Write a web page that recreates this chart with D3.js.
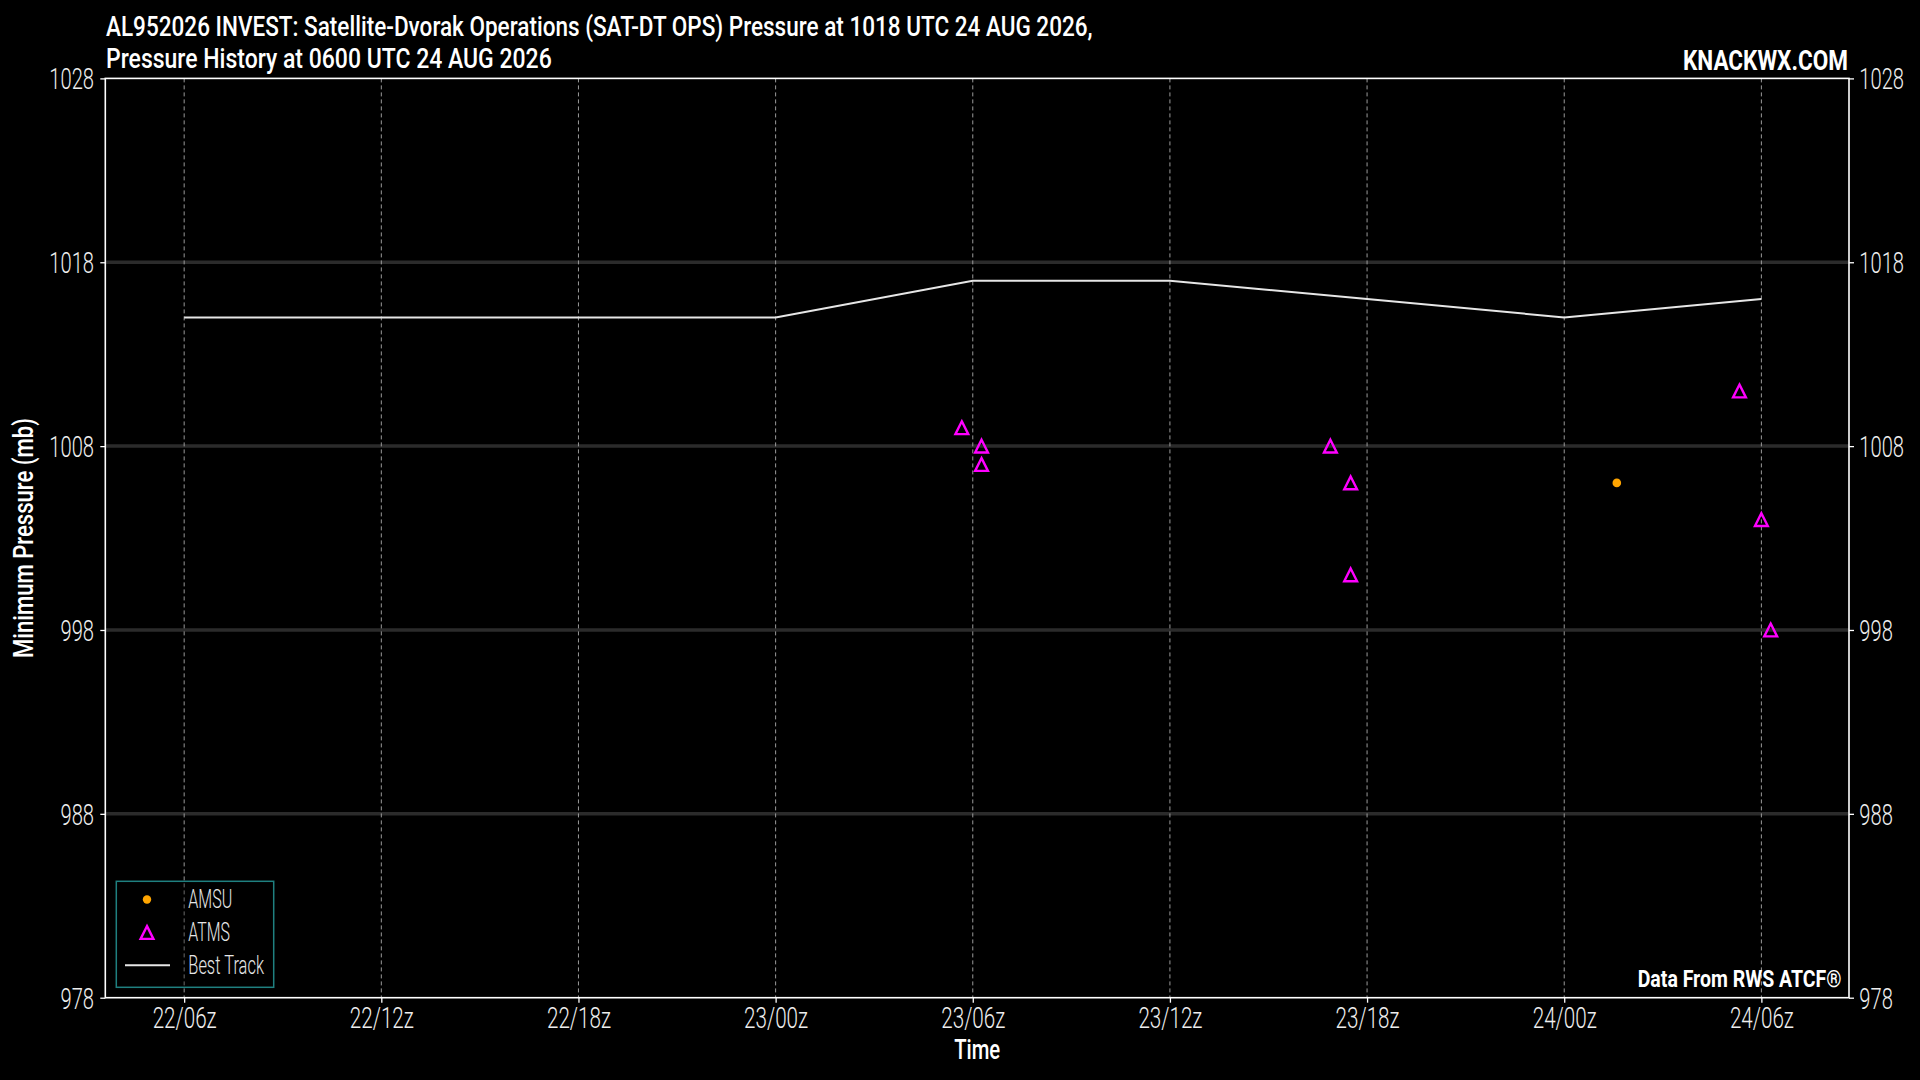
<!DOCTYPE html>
<html>
<head>
<meta charset="utf-8">
<script src="https://cdn.jsdelivr.net/npm/d3@7"></script>
<style>
  html, body { margin: 0; padding: 0; background: #000; }
  svg { display: block; }
</style>
</head>
<body>
<script>
// ---------------- data ----------------
const bestTrackTimes = ["2026-08-22T06:00Z","2026-08-22T12:00Z","2026-08-22T18:00Z","2026-08-23T00:00Z","2026-08-23T06:00Z","2026-08-23T12:00Z","2026-08-23T18:00Z","2026-08-24T00:00Z","2026-08-24T06:00Z"];
const bestTrackPressure = [1015, 1015, 1015, 1015, 1017, 1017, 1016, 1015, 1016];

const atmsTimes = ["2026-08-23T05:40Z","2026-08-23T06:16Z","2026-08-23T06:16Z","2026-08-23T16:53Z","2026-08-23T17:30Z","2026-08-23T17:30Z","2026-08-24T05:20Z","2026-08-24T06:00Z","2026-08-24T06:17Z"];
const atmsPressure = [1009, 1008, 1007, 1008, 1006, 1001, 1011, 1004, 998];

const amsuTimes = ["2026-08-24T01:36Z"];
const amsuPressure = [1006];

const xTickTimes = ["2026-08-22T06:00Z","2026-08-22T12:00Z","2026-08-22T18:00Z","2026-08-23T00:00Z","2026-08-23T06:00Z","2026-08-23T12:00Z","2026-08-23T18:00Z","2026-08-24T00:00Z","2026-08-24T06:00Z"];
const yTicks = [978, 988, 998, 1008, 1018, 1028];
const xDomain = ["2026-08-22T03:36Z", "2026-08-24T08:40Z"];
const yDomain = [978, 1028];

const titleLines = ["AL952026 INVEST: Satellite-Dvorak Operations (SAT-DT OPS) Pressure at 1018 UTC 24 AUG 2026,",
                    "Pressure History at 0600 UTC 24 AUG 2026"];
const legendLabels = ["AMSU", "ATMS", "Best Track"];

// ---------------- setup ----------------
const W = 1920, H = 1080;
const L = 105.3, R = 1849, T = 78.4, B = 997.7;
const FONT = "Roboto, 'Liberation Sans', 'DejaVu Sans', sans-serif";
const parse = d3.utcParse("%Y-%m-%dT%H:%MZ");

const svg = d3.select("body").append("svg")
  .attr("width", W).attr("height", H)
  .style("background", "#000");

const x = d3.scaleUtc().domain(xDomain.map(parse)).range([L, R]);
const y = d3.scaleLinear().domain(yDomain).range([B, T]);

// condense text horizontally (condensed-font look) via transform, placed by anchor
function fitText(sel, width, anchor, ax, baseline) {
  sel.attr("text-anchor", "start").attr("x", 0).attr("y", 0).attr("dy", null);
  const w = sel.node().getComputedTextLength();
  const f = width / w;
  let x0 = ax;
  if (anchor === "middle") x0 = ax - width / 2;
  if (anchor === "end") x0 = ax - width;
  sel.attr("transform", `translate(${x0},${baseline}) scale(${f},1)`);
}

// ---------------- grid ----------------
const grid = svg.append("g");
grid.selectAll("line.hg").data(yTicks.filter(v => v > yDomain[0] && v < yDomain[1]))
  .join("line").attr("class", "hg")
  .attr("x1", L).attr("x2", R)
  .attr("y1", d => y(d)).attr("y2", d => y(d))
  .attr("stroke", "#2b2b2b").attr("stroke-width", 3.5);

grid.selectAll("line.vg").data(xTickTimes.map(parse))
  .join("line").attr("class", "vg")
  .attr("x1", d => x(d)).attr("x2", d => x(d))
  .attr("y1", T).attr("y2", B)
  .attr("stroke", "#9a9a9a").attr("stroke-width", 1)
  .attr("stroke-dasharray", "4,3");

// ---------------- data marks ----------------
const btData = bestTrackTimes.map((t, i) => ({ t: parse(t), p: bestTrackPressure[i] }));
svg.append("path").datum(btData)
  .attr("fill", "none").attr("stroke", "#e6e6e6").attr("stroke-width", 2)
  .attr("d", d3.line().x(d => x(d.t)).y(d => y(d.p)));

const tri = "M0,-6.4L6.4,6.4L-6.4,6.4Z";
const atmsData = atmsTimes.map((t, i) => ({ t: parse(t), p: atmsPressure[i] }));
svg.append("g").selectAll("path").data(atmsData).join("path")
  .attr("d", tri)
  .attr("transform", d => `translate(${x(d.t)},${y(d.p)})`)
  .attr("fill", "none").attr("stroke", "#ff00ff").attr("stroke-width", 2.4);

const amsuData = amsuTimes.map((t, i) => ({ t: parse(t), p: amsuPressure[i] }));
svg.append("g").selectAll("circle").data(amsuData).join("circle")
  .attr("cx", d => x(d.t)).attr("cy", d => y(d.p)).attr("r", 4.3)
  .attr("fill", "#ffa500");

// ---------------- axes ----------------
const axisStyle = g => {
  g.select(".domain").remove();
  g.selectAll(".tick line").attr("stroke", "#fff").attr("stroke-width", 1.3);
  g.selectAll(".tick text")
    .attr("fill", "#eeeeee")
    .style("font-family", FONT)
    .style("font-weight", 300)
    .style("font-size", "30px");
};

const xAxis = svg.append("g").attr("transform", `translate(0,${B})`)
  .call(d3.axisBottom(x).tickValues(xTickTimes.map(parse)).tickFormat(d3.utcFormat("%d/%Hz")).tickSize(5))
  .call(axisStyle);
let xFactor = null;
xAxis.selectAll(".tick text").each(function() {
  const t = d3.select(this);
  const w = this.getComputedTextLength();
  if (xFactor === null) xFactor = 64 / w;
  fitText(t, w * xFactor, "middle", 0, 30.6);
});

const yl = svg.append("g").attr("transform", `translate(${L},0)`)
  .call(d3.axisLeft(y).tickValues(yTicks).tickFormat(d3.format("d")).tickSize(5))
  .call(axisStyle);
const sample = yl.selectAll(".tick text").filter(d => d === 1008).node();
const yFactor = 44.7 / sample.getComputedTextLength();
yl.selectAll(".tick text").each(function() {
  const t = d3.select(this);
  const w = this.getComputedTextLength();
  fitText(t, w * yFactor, "end", -11.3, 10.5);
});

const yr = svg.append("g").attr("transform", `translate(${R},0)`)
  .call(d3.axisRight(y).tickValues(yTicks).tickFormat(d3.format("d")).tickSize(5))
  .call(axisStyle);
yr.selectAll(".tick text").each(function() {
  const t = d3.select(this);
  const w = this.getComputedTextLength();
  fitText(t, w * yFactor, "start", 10.3, 10.5);
});

// spines
svg.append("rect").attr("x", L).attr("y", T).attr("width", R - L).attr("height", B - T)
  .attr("fill", "none").attr("stroke", "#fff").attr("stroke-width", 1.6);

// ---------------- legend ----------------
const lg = svg.append("g");
lg.append("rect").attr("x", 116.3).attr("y", 881.3).attr("width", 157.4).attr("height", 106)
  .attr("fill", "#000").attr("fill-opacity", 0.3)
  .attr("stroke", "#1f8080").attr("stroke-width", 1.5);
const rowY = [899.5, 932.5, 965.3];
lg.append("circle").attr("cx", 147).attr("cy", rowY[0]).attr("r", 4.2).attr("fill", "#ffa500");
lg.append("path").attr("d", tri).attr("transform", `translate(147,${rowY[1]})`)
  .attr("fill", "none").attr("stroke", "#ff00ff").attr("stroke-width", 2.4);
lg.append("line").attr("x1", 125).attr("x2", 170).attr("y1", rowY[2]).attr("y2", rowY[2])
  .attr("stroke", "#e6e6e6").attr("stroke-width", 2);
const legendBaselines = [908.3, 941, 974];
const legendWidths = [44, 41.7, 75.7];
legendLabels.forEach((lab, i) => {
  const t = lg.append("text").text(lab)
    .attr("fill", "#e6e6e6")
    .style("font-family", FONT).style("font-weight", 300).style("font-size", "25px");
  fitText(t, legendWidths[i], "start", 188.3, legendBaselines[i]);
});

// ---------------- titles and labels ----------------
const titleBase = [36, 67.7];
const titleWidths = [987, 446];
titleLines.forEach((line, i) => {
  const t = svg.append("text").text(line)
    .attr("fill", "#fff")
    .style("font-family", FONT).style("font-weight", 500).style("font-size", "27px");
  fitText(t, titleWidths[i], "start", 106, titleBase[i]);
});

const kn = svg.append("text").text("KNACKWX.COM")
  .attr("fill", "#fff")
  .style("font-family", FONT).style("font-weight", 700).style("font-size", "28px");
fitText(kn, 165, "end", 1848, 70);

const df = svg.append("text").text("Data From RWS ATCF®")
  .attr("fill", "#fff")
  .style("font-family", FONT).style("font-weight", 700).style("font-size", "24.5px");
fitText(df, 204, "end", 1841.7, 986.7);

const tl = svg.append("text").text("Time")
  .attr("fill", "#fff")
  .style("font-family", FONT).style("font-weight", 500).style("font-size", "28px");
fitText(tl, 46, "middle", (L + R) / 2, 1059.3);

const yg = svg.append("g").attr("transform", `translate(33.3,538) rotate(-90)`);
const ylab = yg.append("text").text("Minimum Pressure (mb)")
  .attr("fill", "#fff")
  .style("font-family", FONT).style("font-weight", 500).style("font-size", "28px");
fitText(ylab, 240, "middle", 0, 0);
</script>
</body>
</html>
